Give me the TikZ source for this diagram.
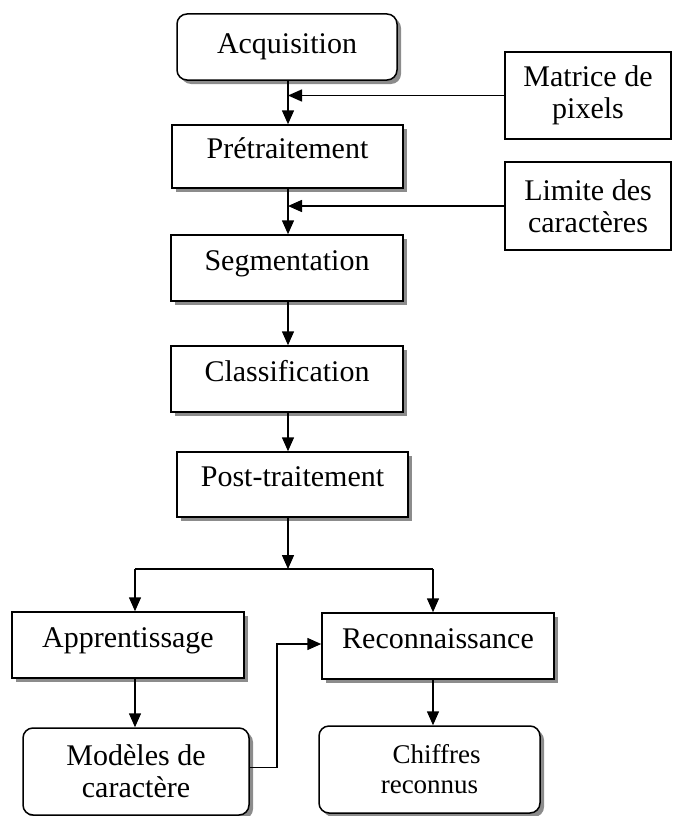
\documentclass[tikz,border=0pt]{standalone}
\usepackage{fontspec}
\setmainfont{Liberation Serif}
\usetikzlibrary{arrows.meta,shadows}
\begin{document}
\begin{tikzpicture}[x=1pt,y=-1pt,
  every node/.style={font=\fontsize{30}{32}\selectfont, align=center, inner sep=0pt},
  shad/.style={drop shadow={shadow xshift=4pt, shadow yshift=-4pt, fill=black!45, opacity=1}},
  stagebox/.style={draw=black, line width=1.5pt, fill=white, shad, text height=20pt, text depth=16pt},
  roundbox/.style={draw=black, line width=1.5pt, fill=white, shad, rounded corners=10pt},
  sidebox/.style={draw=black, line width=1.5pt, fill=white},
  arr/.style={line width=1.5pt, -{Triangle[length=14pt,width=12pt]}},
  ln/.style={line width=1.5pt}]
\useasboundingbox (0,0) rectangle (673,816);
% boxes
\node[roundbox, minimum width=220pt, minimum height=66pt] (acq) at (287,47) {Acquisition};
\node[stagebox, minimum width=231pt, minimum height=63pt] (pre) at (287.5,156.5) {Prétraitement};
\node[stagebox, minimum width=232pt, minimum height=66pt] (seg) at (287,268) {Segmentation};
\node[stagebox, minimum width=232pt, minimum height=66pt] (cla) at (287,379) {Classification};
\node[stagebox, minimum width=231pt, minimum height=65pt] (post) at (292.5,484.5) {Post-traitement};
\node[stagebox, minimum width=232pt, minimum height=66pt] (app) at (128,645) {Apprentissage};
\node[stagebox, minimum width=232pt, minimum height=66pt] (rec) at (438,646) {Reconnaissance};
\node[roundbox, minimum width=226pt, minimum height=87pt] (mod) at (136,771.5) {Modèles de\\caractère};
\node[roundbox, minimum width=221pt, minimum height=87pt, font=\fontsize{27}{30}\selectfont] (chi) at (429.5,769.5) {\hspace*{14pt}Chiffres\\reconnus};
\node[sidebox, minimum width=166pt, minimum height=87pt] (mat) at (588,95.5) {Matrice de\\pixels};
\node[sidebox, minimum width=166pt, minimum height=88pt] (lim) at (588,206) {Limite des\\caractères};
% coordinates
\coordinate (spine) at (288,0);
\coordinate (split) at (288,569);
\coordinate (sl) at (135,569);
\coordinate (sr) at (433,569);
\coordinate (bend) at (277,0);
% connectors
\draw[arr] (spine |- acq.south) -- (spine |- pre.north);
\draw[arr] (mat.west) -- (mat.west -| spine);
\draw[arr] (spine |- pre.south) -- (spine |- seg.north);
\draw[arr] (lim.west) -- (lim.west -| spine);
\draw[arr] (spine |- seg.south) -- (spine |- cla.north);
\draw[arr] (spine |- cla.south) -- (spine |- post.north);
\draw[arr] (spine |- post.south) -- (split);
\draw[ln] (sl) -- (sr);
\draw[arr] (sl) -- (sl |- app.north);
\draw[arr] (sr) -- (sr |- rec.north);
\draw[arr] (sl |- app.south) -- (sl |- mod.north);
\draw[arr] (sr |- rec.south) -- (sr |- chi.north);
\draw[arr] ([yshift=4pt]mod.east) -- ([yshift=4pt]mod.east -| bend) |- ([yshift=2pt]rec.west);
\end{tikzpicture}
\end{document}
